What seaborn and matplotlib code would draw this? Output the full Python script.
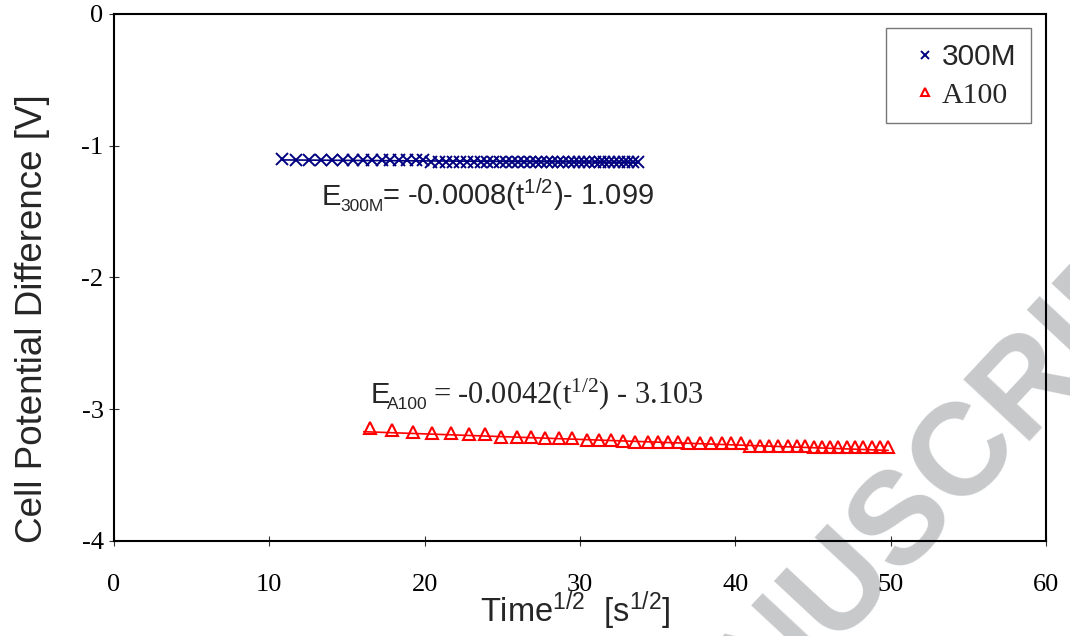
import numpy as np
import pandas as pd
import matplotlib
matplotlib.use("Agg")
import matplotlib.pyplot as plt
import seaborn as sns

# ---------------- data ----------------
time_300m = [10.82, 11.70, 12.53, 13.30, 14.04, 14.73, 15.39, 16.03, 16.64, 17.23,
             17.80, 18.36, 18.89, 19.42, 19.92, 20.42, 20.90, 21.38, 21.84, 22.29,
             22.74, 23.17, 23.60, 24.02, 24.43, 24.84, 25.24, 25.63, 26.02, 26.40,
             26.78, 27.15, 27.51, 27.87, 28.23, 28.58, 28.93, 29.27, 29.61, 29.95,
             30.28, 30.61, 30.94, 31.26, 31.58, 31.89, 32.20, 32.51, 32.82, 33.12,
             33.42, 33.72]
e_300m = [-1.10] + [-1.11] * 14 + [-1.12] * 37

time_a100 = [16.48, 17.92, 19.23, 20.49, 21.68, 22.84, 23.88, 24.93, 25.93, 26.86,
             27.77, 28.67, 29.49, 30.43, 31.20, 32.02, 32.79, 33.54, 34.40, 35.04,
             35.65, 36.33, 36.97, 37.73, 38.44, 39.12, 39.72, 40.36, 40.94, 41.59,
             42.17, 42.77, 43.37, 43.95, 44.48, 45.05, 45.60, 46.10, 46.63, 47.17,
             47.71, 48.24, 48.78, 49.31, 49.85]
e_a100 = [-3.14, -3.16, -3.17, -3.18, -3.18, -3.19, -3.19, -3.21, -3.21, -3.21,
          -3.22, -3.22, -3.22, -3.23, -3.23, -3.23, -3.24] \
         + [-3.25] * 5 + [-3.26] * 6 + [-3.28] * 7 + [-3.29] * 10

fit_300m = (-0.0008, -1.099)   # slope, intercept of the printed trend line
fit_a100 = (-0.0042, -3.103)

series_labels = ["300M", "A100"]
x_ticks = [0, 10, 20, 30, 40, 50, 60]
y_ticks = [0, -1, -2, -3, -4]
watermark = "MANUSCRIPT"

# ---------------- style ----------------
sns.set_style("white")
plt.rcParams["font.family"] = ["Liberation Serif", "DejaVu Sans"]
plt.rcParams["mathtext.default"] = "regular"
plt.rcParams["axes.unicode_minus"] = False

NAVY = "#000080"
RED = "#ff0000"
SANS = "Liberation Sans"
SERIF = "Liberation Serif"

fig = plt.figure(figsize=(10.7, 6.36), dpi=100)
fig.patch.set_facecolor("white")
ax = fig.add_axes([0.1065, 0.1494, 0.871, 0.8286])
ax.patch.set_alpha(0)

fig.text(0.843, 0.186, watermark, rotation=47, ha="center", va="center",
         fontsize=94, fontweight="bold", family=SANS,
         color="#c8c9cb", zorder=-5)

df_300m = pd.DataFrame({"t": time_300m, "E": e_300m})
df_a100 = pd.DataFrame({"t": time_a100, "E": e_a100})

# 300M markers + trend line
sns.lineplot(data=df_300m, x="t", y="E", ax=ax, estimator=None, sort=False,
             marker="x", linestyle="none", markersize=9, markeredgewidth=1.4,
             markeredgecolor=NAVY, color=NAVY, label=series_labels[0])
tx = np.array([min(time_300m), max(time_300m)])
sns.lineplot(x=tx, y=fit_300m[0] * tx + fit_300m[1], ax=ax, color=NAVY,
             linewidth=1.2, estimator=None, sort=False)

# A100 markers + trend line
sns.lineplot(data=df_a100, x="t", y="E", ax=ax, estimator=None, sort=False,
             marker="^", linestyle="none", markersize=8.5, markeredgewidth=1.5,
             markerfacecolor="none", markeredgecolor=RED, color=RED,
             label=series_labels[1])
tx2 = np.array([min(time_a100) - 0.4, max(time_a100)])
sns.lineplot(x=tx2, y=fit_a100[0] * tx2 + fit_a100[1], ax=ax, color=RED,
             linewidth=1.2, estimator=None, sort=False)

# axes
ax.set_xlim(0, 60)
ax.set_ylim(-4, 0)
ax.set_xticks(x_ticks)
ax.set_xticklabels([str(v) for v in x_ticks])
ax.set_yticks(y_ticks)
ax.set_yticklabels([str(v) for v in y_ticks])
for side in ["left", "right", "top", "bottom"]:
    ax.spines[side].set_visible(True)
    ax.spines[side].set_color("black")
    ax.spines[side].set_linewidth(1.5)
ax.tick_params(direction="inout", length=7, width=0.8, color="#333333",
               labelsize=19, labelcolor="black")
ax.tick_params(axis="x", pad=20, bottom=True, top=False)
ax.tick_params(axis="y", pad=4, left=True, right=False)
ax.grid(False)

ax.set_ylabel("Cell Potential Difference [V]", family=SANS, fontsize=26.5)
ax.yaxis.set_label_coords(-0.069, 0.421)
ax.set_xlabel("Time$^{1/2}$  [s$^{1/2}$]", family=SANS, fontsize=23.5)
ax.xaxis.set_label_coords(0.4946, -0.154)
ax.xaxis.label.set_va("baseline")

# equations (main text / small subscript / rest)
ax.text(13.37, -1.450, "E", family=SANS, fontsize=21, ha="left", va="baseline")
ax.text(14.55, -1.493, "300M", family=SANS, fontsize=12.5, ha="left", va="baseline")
ax.text(17.25, -1.450, "= -0.0008(t$^{1/2}$)- 1.099", family=SANS, fontsize=21,
        ha="left", va="baseline")

ax.text(16.55, -2.953, "E", family=SANS, fontsize=21, ha="left", va="baseline")
ax.text(17.55, -2.996, "A100", family=SANS, fontsize=12.5, ha="left", va="baseline")
ax.text(20.54, -2.953, "= -0.0042(t$^{1/2}$) - 3.103", family=SERIF,
        fontsize=22, ha="left", va="baseline")

# legend
leg = ax.legend(loc="upper right", bbox_to_anchor=(0.984, 0.973), borderaxespad=0,
                frameon=True, fancybox=False, edgecolor="#555555", fontsize=21.5,
                handlelength=1.6, handletextpad=-0.25, borderpad=0.5,
                labelspacing=0.35, markerscale=0.7)
leg.get_frame().set_linewidth(1.0)
leg.get_frame().set_facecolor("white")
leg.get_texts()[0].set_family(SANS)
leg.get_texts()[1].set_family(SERIF)

fig.savefig("out.png", dpi=100)
